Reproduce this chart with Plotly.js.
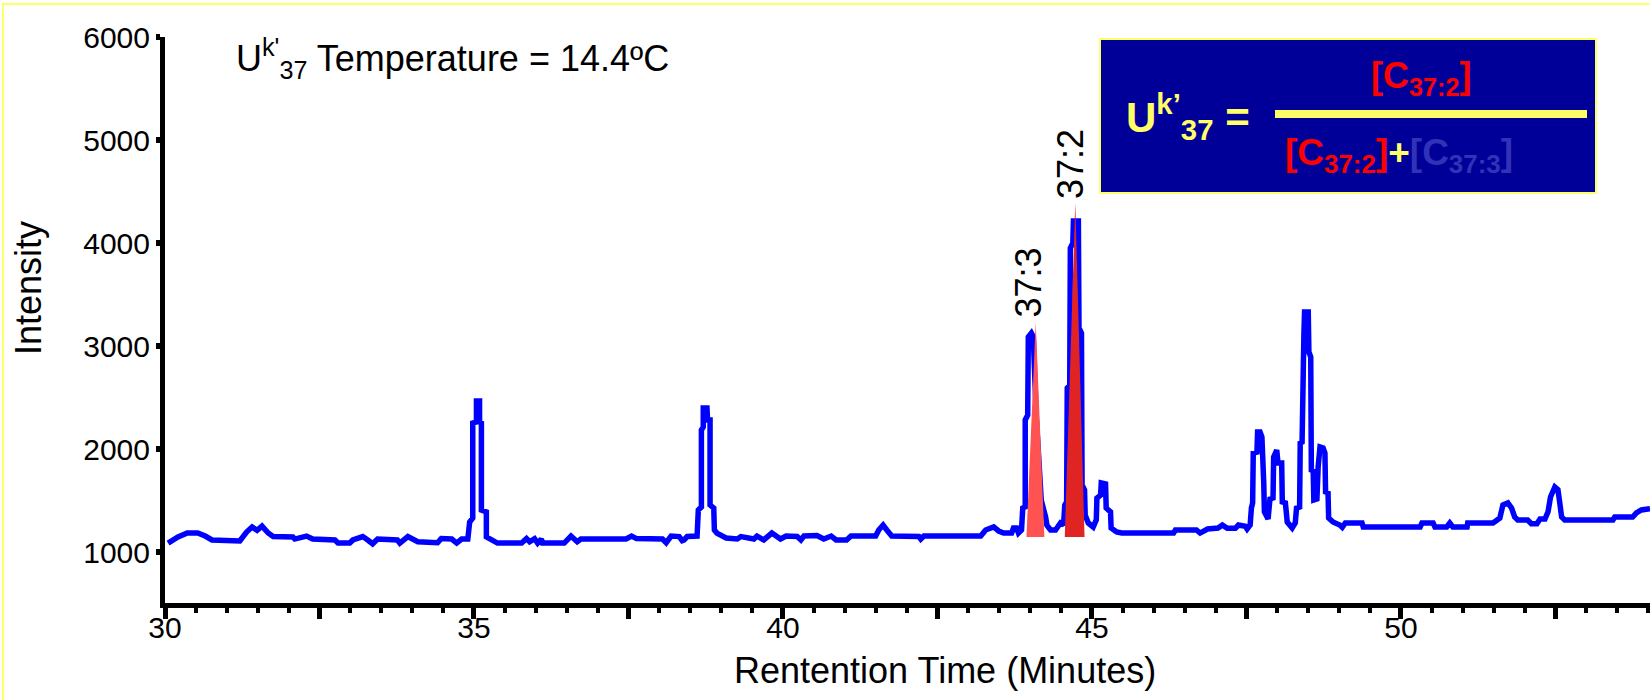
<!DOCTYPE html>
<html>
<head>
<meta charset="utf-8">
<script src="https://cdn.plot.ly/plotly-3.0.1.min.js"></script>
<style>html,body{margin:0;padding:0;background:#fff;}#chart{width:1650px;height:700px;}</style>
</head>
<body>
<div id="chart"></div>
<script>
// Retention time (minutes) and detector intensity
const rtMinutes = [
30.05,30.21,30.36,30.53,30.65,30.76,31.21,31.32,31.41,31.49,31.57,31.67,31.75,32.07,32.10,32.29,32.39,32.75,32.80,32.99,
33.04,33.20,33.28,33.36,33.44,33.76,33.80,33.93,34.09,34.41,34.47,34.64,34.72,34.80,34.90,34.93,34.98,34.98,35.04,35.04,
35.09,35.09,35.12,35.12,35.20,35.20,35.38,35.77,35.85,35.90,35.98,36.03,36.09,36.11,36.46,36.57,36.67,36.73,37.46,37.55,
37.63,38.05,38.11,38.19,38.32,38.37,38.40,38.45,38.61,38.63,38.68,38.68,38.71,38.71,38.77,38.78,38.82,38.82,38.88,38.89,
38.93,39.08,39.26,39.32,39.53,39.58,39.69,39.82,39.96,40.05,40.23,40.29,40.34,40.55,40.66,40.78,40.86,41.03,41.10,41.50,
41.55,41.62,41.68,41.76,42.20,42.23,42.28,43.20,43.28,43.41,43.49,43.57,43.70,43.73,43.78,43.81,43.86,43.88,43.92,43.92,
43.96,43.97,44.02,44.05,44.10,44.18,44.25,44.27,44.33,44.41,44.49,44.54,44.56,44.59,44.60,44.64,44.65,44.69,44.70,44.78,
44.79,44.83,44.84,44.88,44.89,44.94,45.02,45.07,45.08,45.14,45.15,45.22,45.23,45.30,45.31,45.40,45.48,46.32,46.35,46.69,
46.75,46.87,47.04,47.11,47.19,47.32,47.37,47.48,47.51,47.56,47.58,47.60,47.61,47.67,47.68,47.72,47.75,47.76,47.78,47.79,
47.85,47.88,47.93,47.94,47.99,48.01,48.07,48.08,48.13,48.16,48.24,48.29,48.31,48.36,48.37,48.40,48.41,48.43,48.44,48.50,
48.51,48.54,48.55,48.58,48.59,48.64,48.66,48.69,48.74,48.77,48.78,48.82,48.83,48.90,49.01,49.05,49.10,49.37,49.39,50.31,
50.34,50.52,50.55,50.74,50.79,50.84,51.07,51.08,51.49,51.60,51.65,51.73,51.79,51.84,51.89,52.05,52.11,52.20,52.25,52.33,
52.38,52.42,52.49,52.54,52.57,52.60,52.65,53.43,53.46,53.75,53.81,53.89,53.97,54.03
];
const intensity = [
1087,1146,1185,1185,1155,1117,1107,1194,1243,1210,1252,1184,1150,1146,1126,1155,1126,1117,1087,1087,
1117,1150,1117,1080,1126,1117,1087,1150,1100,1090,1130,1126,1087,1126,1126,1291,1330,2252,2262,2466,
2466,2262,2252,1408,1390,1146,1087,1087,1130,1100,1130,1087,1126,1087,1087,1155,1100,1126,1126,1155,
1130,1126,1090,1155,1150,1110,1117,1150,1155,1408,1437,2184,2214,2398,2398,2282,2282,1456,1427,1214,
1184,1136,1126,1150,1126,1155,1117,1184,1126,1155,1150,1117,1155,1160,1126,1155,1117,1117,1155,1155,
1214,1262,1214,1155,1150,1126,1155,1155,1214,1243,1204,1184,1184,1233,1233,1184,1214,1427,1437,2282,
2330,3087,3126,3090,2300,1500,1340,1262,1214,1214,1282,1262,1456,1485,2592,2621,3951,4000,4214,4214,
3175,3126,1650,1602,1360,1282,1243,1311,1524,1553,1670,1660,1427,1390,1233,1194,1184,1184,1214,1214,
1184,1223,1233,1262,1230,1230,1262,1250,1223,1262,1427,1476,1961,1970,2165,2165,2117,1680,1670,1390,
1320,1515,1525,1922,1990,1864,1864,1485,1476,1291,1233,1282,1427,1437,2058,2068,3078,3126,3330,3330,
2942,2893,1796,1786,1505,1515,1825,2020,2010,1961,1583,1573,1330,1291,1262,1240,1282,1282,1243,1243,
1282,1282,1243,1243,1282,1243,1243,1282,1282,1330,1456,1476,1427,1340,1311,1311,1275,1275,1320,1320,
1390,1534,1631,1605,1476,1340,1311,1311,1340,1340,1380,1408,1415,1420
];
// Integrated peak markers (triangles)
const c373X = [43.94, 44.09, 44.23];
const c373Y = [1146, 3233, 1146];
const c372X = [44.56, 44.73, 44.88];
const c372Y = [1146, 4388, 1146];
const peakLabels = ['37:3', '37:2'];
const peakLabelX = [43.97, 44.65];
const peakLabelY = [3620, 4770];
// Axis ticks
const xMajorVals = [30, 32.5, 35, 37.5, 40, 42.5, 45, 47.5, 50, 52.5];
const xMajorText = ['30', '', '35', '', '40', '', '45', '', '50', ''];
const yTickVals = [1000, 2000, 3000, 4000, 5000, 6000];
const yTickText = ['1000', '2000', '3000', '4000', '5000', '6000'];

const W = 1650, H = 700, L = 165, R = 0, T = 37, B = 97;
const pw = W - L - R, ph = H - T - B;
const px = v => (v - L) / pw;          // page pixel -> paper x
const py = v => (H - B - v) / ph;      // page pixel -> paper y

const FONT = 'Liberation Sans, Arial, Helvetica, sans-serif';
const YEL = '#ffff66';
const FS = 36;
const TFS = 30;

const traces = [
  {x: rtMinutes, y: intensity, type: 'scatter', mode: 'lines',
   line: {color: '#0000ff', width: 5.5}, hoverinfo: 'x+y'},
  {x: c373X, y: c373Y, type: 'scatter', mode: 'lines', fill: 'toself',
   fillcolor: '#ff5252', line: {color: '#ff5252', width: 0}},
  {x: c372X, y: c372Y, type: 'scatter', mode: 'lines', fill: 'toself',
   fillcolor: '#e02424', line: {color: '#e02424', width: 0}}
];

const layout = {
  width: W, height: H,
  margin: {l: L, r: R, t: T, b: B, pad: 0},
  paper_bgcolor: '#ffffff', plot_bgcolor: '#ffffff',
  showlegend: false,
  font: {family: FONT, color: '#000', size: FS},
  xaxis: {
    range: [30, 54.03], showgrid: false, zeroline: false,
    showline: true, linecolor: '#000', linewidth: 5,
    ticks: 'outside', ticklen: 11, tickwidth: 5, tickcolor: '#000',
    tickmode: 'array', tickvals: xMajorVals, ticktext: xMajorText,
    ticklabelstandoff: -17,
    tickfont: {family: FONT, size: TFS, color: '#000'},
    minor: {dtick: 0.5, tick0: 30, ticks: 'outside', ticklen: 5, tickwidth: 4, tickcolor: '#000', showgrid: false}
  },
  yaxis: {
    range: [505, 6000], showgrid: false, zeroline: false,
    showline: true, linecolor: '#000', linewidth: 5,
    ticks: 'outside', ticklen: 4, tickwidth: 6, tickcolor: '#000',
    tickmode: 'array', tickvals: yTickVals, ticktext: yTickText,
    tickfont: {family: FONT, size: TFS, color: '#000'}
  },
  shapes: [
    {type: 'rect', xref: 'paper', yref: 'paper', x0: px(3), x1: px(1700), y0: py(760), y1: py(4),
     line: {color: YEL, width: 2}, fillcolor: 'rgba(0,0,0,0)', layer: 'below'},
    {type: 'rect', xref: 'paper', yref: 'paper', x0: px(1100), x1: px(1596), y0: py(193), y1: py(39),
     line: {color: YEL, width: 2}, fillcolor: '#000099', layer: 'above'},
    {type: 'rect', xref: 'paper', yref: 'paper', x0: px(1275), x1: px(1587), y0: py(118), y1: py(110),
     line: {width: 0}, fillcolor: YEL, layer: 'above'}
  ],
  annotations: [
    {xref: 'paper', yref: 'paper', x: px(234), y: py(58), xanchor: 'left', yanchor: 'middle',
     text: 'U<sup>k\'</sup><sub>37</sub> Temperature = 14.4ºC', showarrow: false,
     font: {family: FONT, size: FS, color: '#000'}},
    {xref: 'paper', yref: 'paper', x: px(28), y: py(288), xanchor: 'center', yanchor: 'middle',
     text: 'Intensity', textangle: -90, showarrow: false,
     font: {family: FONT, size: FS, color: '#000'}},
    {xref: 'paper', yref: 'paper', x: px(945), y: py(670), xanchor: 'center', yanchor: 'middle',
     text: 'Rentention Time (Minutes)', showarrow: false,
     font: {family: FONT, size: FS, color: '#000'}},
    {xref: 'x', yref: 'y', x: peakLabelX[0], y: peakLabelY[0], xanchor: 'center', yanchor: 'middle',
     text: peakLabels[0], textangle: -90, showarrow: false,
     font: {family: FONT, size: FS, color: '#000'}},
    {xref: 'x', yref: 'y', x: peakLabelX[1], y: peakLabelY[1], xanchor: 'center', yanchor: 'middle',
     text: peakLabels[1], textangle: -90, showarrow: false,
     font: {family: FONT, size: FS, color: '#000'}},
    {xref: 'paper', yref: 'paper', x: px(1124), y: py(116), xanchor: 'left', yanchor: 'middle',
     text: '<b>U<sup>k’</sup><sub>37</sub> =</b>', showarrow: false,
     font: {family: FONT, size: 42, color: YEL}},
    {xref: 'paper', yref: 'paper', x: px(1421), y: py(78), xanchor: 'center', yanchor: 'middle',
     text: '<b>[C<sub>37:2</sub>]</b>', showarrow: false,
     font: {family: FONT, size: 36, color: '#ff0000'}},
    {xref: 'paper', yref: 'paper', x: px(1399), y: py(155), xanchor: 'center', yanchor: 'middle',
     text: '<b><span style="color:#ff0000">[C<sub>37:2</sub>]</span><span style="color:' + YEL + '">+</span><span style="color:#3232b8">[C<sub>37:3</sub>]</span></b>',
     showarrow: false, font: {family: FONT, size: 37, color: '#ff0000'}}
  ]
};

Plotly.newPlot('chart', traces, layout, {displayModeBar: false, staticPlot: true});
</script>
</body>
</html>
